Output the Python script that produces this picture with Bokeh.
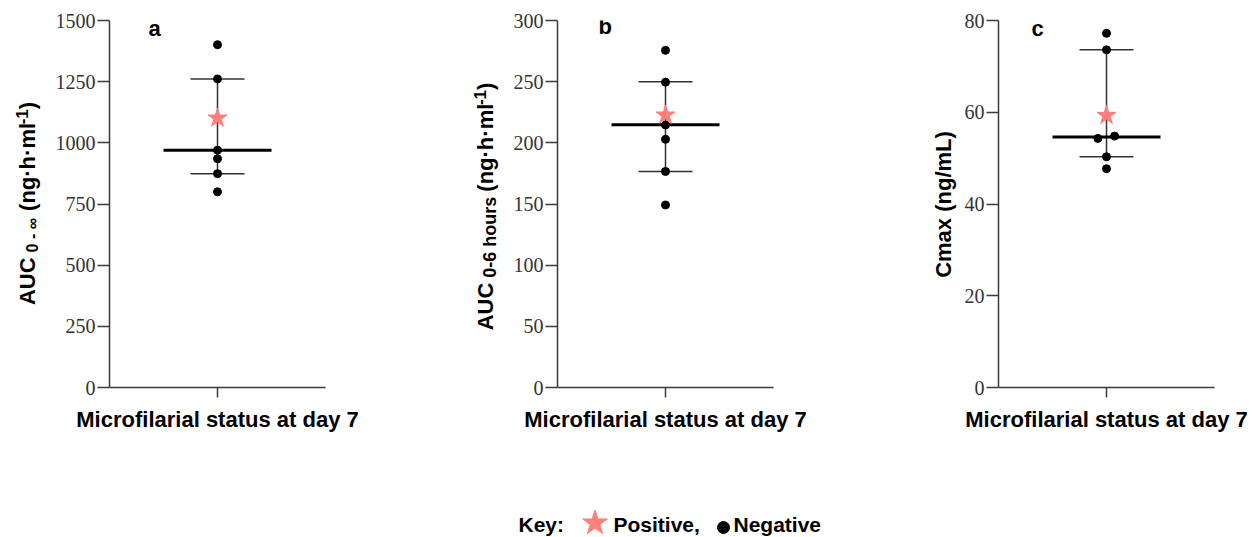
import math
from bokeh.plotting import figure
from bokeh.models import Range1d, FixedTicker, Label
from bokeh.layouts import row, column
from bokeh.embed import file_html
from bokeh.resources import INLINE

# ---------------- data ----------------
a_negative = [1401, 1261, 970, 935, 874, 800]
a_negative_x = [0, 0, 0, 0, 0, 0]
a_positive = [1101]
a_median, a_lower, a_upper = 970, 874, 1261
a_ticks = [0, 250, 500, 750, 1000, 1250, 1500]

b_negative = [275.6, 249.6, 214.6, 202.9, 176.6, 149.2]
b_negative_x = [0, 0, 0, 0, 0, 0]
b_positive = [222.7]
b_median, b_lower, b_upper = 214.8, 176.6, 250.0
b_ticks = [0, 50, 100, 150, 200, 250, 300]

c_negative = [77.2, 73.6, 54.3, 54.8, 50.3, 47.7]
c_negative_x = [0, 0, -0.08, 0.075, 0, 0]
c_positive = [59.3]
c_median, c_lower, c_upper = 54.6, 50.3, 73.6
c_ticks = [0, 20, 40, 60, 80]

x_title = "Microfilarial status at day 7"
key_items = ["Key:", "Positive,", "Negative"]

# approximate Arial/Liberation Sans Bold advance widths (per 1000 em)
W = {' ': 278, '0': 556, '1': 556, '6': 556, '-': 333, '\u221e': 713, 'A': 722, 'U': 722,
     'C': 722, '(': 333, ')': 333, 'n': 611, 'g': 611, '\u00b7': 278, 'h': 611, 'm': 889,
     'l': 278, 'o': 611, 'u': 611, 'r': 389, 's': 556, 'a': 556, 'x': 556, '/': 278, 'L': 611}


def tw(t, size):
    return sum(W.get(ch, 556) for ch in t) / 1000.0 * size


FIG_H = 460
FRAME_TOP = 20      # page y of frame top
FRAME_BOTTOM = 387  # page y of frame bottom
FRAME_H = FRAME_BOTTOM - FRAME_TOP
BORDER_BOTTOM = FIG_H - FRAME_BOTTOM
BASE_K = 0.4        # baseline offset of Bokeh's text anchor, in em
AXIS_COL = "#3a3a3a"


def label_fig(width, left_page, pieces, base_x, center_y):
    f = figure(width=width, height=FIG_H, x_range=Range1d(0, width), y_range=Range1d(0, FRAME_H),
               output_backend="svg", toolbar_location=None,
               min_border_left=0, min_border_right=0, min_border_top=FRAME_TOP,
               min_border_bottom=BORDER_BOTTOM, x_axis_location=None, y_axis_location=None)
    f.outline_line_color = None
    f.xgrid.visible = False
    f.ygrid.visible = False
    total = sum(gap + tw(t, size) for t, size, shift, gap in pieces)
    cur = center_y + total / 2
    for t, size, shift, gap in pieces:
        cur -= gap
        f.add_layout(Label(x=base_x + shift - BASE_K * size - left_page, y=FRAME_BOTTOM - cur,
                           text=t, angle=math.pi / 2, text_font="Liberation Sans",
                           text_font_style="bold", text_font_size=f"{size}px",
                           text_color="black", text_align="left",
                           text_baseline="alphabetic"))
        cur -= tw(t, size)
    return f


def panel(width, bl, br, frame_left, y_end, ticks, neg, neg_x, pos,
          med, lo, hi, letter, letter_xy):
    p = figure(width=width, height=FIG_H, x_range=Range1d(-1, 1), y_range=Range1d(0, y_end),
               output_backend="svg", toolbar_location=None,
               min_border_left=bl, min_border_right=br, min_border_top=FRAME_TOP,
               min_border_bottom=BORDER_BOTTOM)
    p.outline_line_color = None
    p.xgrid.visible = False
    p.ygrid.visible = False

    ya = p.yaxis[0]
    ya.ticker = FixedTicker(ticks=ticks)
    ya.major_label_text_font = "Liberation Serif"
    ya.major_label_text_font_size = "20px"
    ya.major_label_text_color = "#333333"
    ya.major_label_standoff = 2
    ya.major_tick_out = 12
    ya.major_tick_in = 0
    ya.minor_tick_out = 0
    ya.minor_tick_in = 0
    ya.axis_line_width = 1.5
    ya.axis_line_color = AXIS_COL
    ya.major_tick_line_width = 1.5
    ya.major_tick_line_color = AXIS_COL

    xa = p.xaxis[0]
    xa.ticker = FixedTicker(ticks=[0])
    xa.major_label_overrides = {0: ""}
    xa.major_label_text_font_size = "1px"
    xa.major_label_standoff = 0
    xa.major_tick_out = 10
    xa.major_tick_in = 0
    xa.minor_tick_out = 0
    xa.minor_tick_in = 0
    xa.axis_line_width = 1.5
    xa.axis_line_color = AXIS_COL
    xa.major_tick_line_width = 1.5
    xa.major_tick_line_color = AXIS_COL
    xa.axis_label = x_title
    xa.axis_label_text_font = "Liberation Sans"
    xa.axis_label_text_font_style = "bold"
    xa.axis_label_text_font_size = "22px"
    xa.axis_label_text_color = "black"
    xa.axis_label_standoff = 9

    # median with interquartile range
    p.segment(x0=[0], y0=[lo], x1=[0], y1=[hi], line_width=1.5, line_color="#333333")
    p.segment(x0=[-0.25, -0.25], y0=[lo, hi], x1=[0.25, 0.25], y1=[lo, hi],
              line_width=1.5, line_color="#333333")
    p.segment(x0=[-0.5], y0=[med], x1=[0.5], y1=[med], line_width=3, line_color="black")
    p.scatter(x=neg_x, y=neg, size=8, color="black")
    p.scatter(x=[0] * len(pos), y=pos, marker="star", size=20, color="#FF7F7F")

    p.add_layout(Label(x=letter_xy[0] - frame_left,
                       y=FRAME_BOTTOM - (letter_xy[1] - BASE_K * 22),
                       x_units="screen", y_units="screen", text=letter,
                       text_font="Liberation Sans", text_font_style="bold",
                       text_font_size="22px", text_color="black",
                       text_align="left", text_baseline="alphabetic"))
    return p


pieces_a = [("AUC", 22, 0, 0), ("0 - \u221e", 16, 2, 5), ("(ng\u00b7h\u00b7ml", 22, 0, 7),
            ("-1", 17, -8, 1), (")", 22, 0, 0)]
pieces_b = [("AUC", 22, 0, 0), ("0-6 hours", 18, 3, 5), ("(ng\u00b7h\u00b7ml", 22, 0, 5),
            ("-1", 17, -8, 1), (")", 22, 0, 0)]
pieces_c = [("Cmax (ng/mL)", 22, 0, 0)]

# page layout (x from 0)
la = label_fig(50, 0, pieces_a, 36, 203)
pa = panel(315, 59, 40, 109, 1500, a_ticks, a_negative, a_negative_x, a_positive,
           a_median, a_lower, a_upper, "a", (148, 37))
lb = label_fig(140, 365, pieces_b, 494, 206)
pb = panel(395, 52, 127, 557, 300, b_ticks, b_negative, b_negative_x, b_positive,
           b_median, b_lower, b_upper, "b", (598, 35))
lc = label_fig(60, 900, pieces_c, 952, 204)
pc = panel(295, 38, 41, 998, 80, c_ticks, c_negative, c_negative_x, c_positive,
           c_median, c_lower, c_upper, "c", (1031, 37))

# key
KH = 537 - FIG_H
kf = figure(width=1255, height=KH, x_range=Range1d(0, 1255), y_range=Range1d(0, KH),
            output_backend="svg", toolbar_location=None, min_border=0,
            x_axis_location=None, y_axis_location=None)
kf.outline_line_color = None
kf.xgrid.visible = False
kf.ygrid.visible = False
key_base = 532  # page y of text baseline
for txt, xx in zip(key_items, [518, 613, 733]):
    kf.add_layout(Label(x=xx, y=537 - (key_base - BASE_K * 21), text=txt,
                        text_font="Liberation Sans", text_font_style="bold",
                        text_font_size="21px", text_color="black",
                        text_align="left", text_baseline="alphabetic"))
kf.scatter(x=[594.5], y=[537 - 522.5], marker="star", size=26, color="#FF7F7F")
kf.scatter(x=[723], y=[537 - 527], size=12, color="black")

layout = column(row(la, pa, lb, pb, lc, pc, spacing=0), kf, spacing=0)
open("out.html", "w").write(file_html(layout, INLINE))
